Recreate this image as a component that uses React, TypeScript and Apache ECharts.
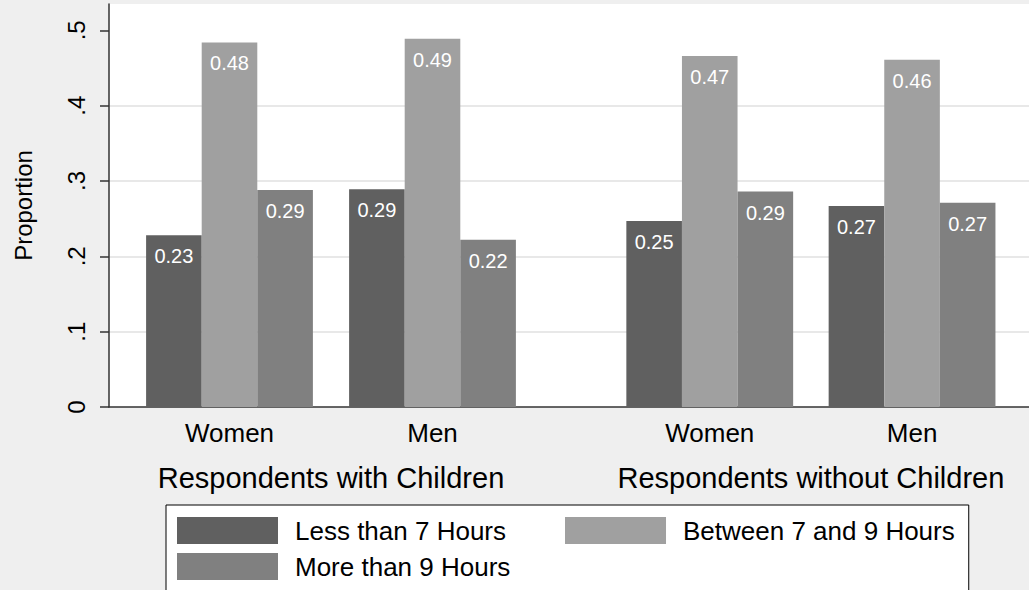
import React, { useEffect, useRef } from "react";
import * as echarts from "echarts";

// ---- data ----
const sexes = ["Women", "Men"];
const groups = ["Respondents with Children", "Respondents without Children"];
const seriesNames = ["Less than 7 Hours", "Between 7 and 9 Hours", "More than 9 Hours"];
// order: [with children: Women, Men], [without children: Women, Men]
const lessThan7 = [0.228, 0.289, 0.247, 0.267];
const between7and9 = [0.484, 0.489, 0.466, 0.461];
const moreThan9 = [0.288, 0.222, 0.286, 0.271];
const yTicks = [0, 0.1, 0.2, 0.3, 0.4, 0.5];
const yMax = 0.535;

const FONT = "'Liberation Sans', Arial, sans-serif";
const colors = ["#606060", "#a0a0a0", "#808080"];

export default function App() {
  const ref = useRef<HTMLDivElement>(null);

  useEffect(() => {
    if (!ref.current) return;
    const chart = echarts.init(ref.current, undefined, { renderer: "svg" });
    const values = [lessThan7, between7and9, moreThan9];

    const series: any[] = [];
    values.forEach((vals, si) => {
      groups.forEach((_g, gi) => {
        series.push({
          type: "bar",
          name: seriesNames[si],
          xAxisIndex: gi + 1,
          yAxisIndex: gi + 1,
          data: vals.slice(gi * 2, gi * 2 + 2),
          barWidth: 55.6,
          barGap: "0%",
          itemStyle: { color: colors[si] },
          label: {
            show: true,
            position: "insideTop",
            distance: 11,
            color: "#fff",
            fontSize: 20,
            fontFamily: FONT,
            formatter: (p: any) => Number(p.value).toFixed(2),
          },
        });
      });
    });

    const groupXAxis = (gi: number) => ({
      gridIndex: gi + 1,
      type: "category",
      data: sexes,
      axisLine: { show: false },
      axisTick: { show: false },
      axisLabel: { fontSize: 26, margin: 13, color: "#000", fontFamily: FONT },
      name: groups[gi],
      nameLocation: "middle",
      nameGap: 56,
      nameTextStyle: { fontSize: 29, color: "#000", fontFamily: FONT },
    });

    const hiddenY = (gi: number) => ({
      gridIndex: gi + 1,
      type: "value",
      min: 0,
      max: yMax,
      show: false,
      splitLine: { show: false },
    });

    const legendBase = {
      left: 166,
      itemWidth: 101,
      itemHeight: 27,
      icon: "rect",
      selectedMode: false,
      textStyle: { fontSize: 26, color: "#000", fontFamily: FONT, padding: [8, 0, 0, 12] },
    };

    chart.setOption({
      animation: false,
      backgroundColor: "#efefef",
      textStyle: { fontFamily: FONT },
      grid: [
        { left: 109, right: 0, top: 4, bottom: 183, show: true, backgroundColor: "#fff", borderWidth: 0 },
        { left: 128, width: 406, top: 4, bottom: 183 },
        { left: 608.6, width: 404.6, top: 4, bottom: 183 },
      ],
      xAxis: [
        {
          gridIndex: 0,
          type: "category",
          data: [""],
          axisLine: { show: true, lineStyle: { color: "#333", width: 1.5 } },
          axisTick: { show: false },
          axisLabel: { show: false },
        },
        groupXAxis(0),
        groupXAxis(1),
      ],
      yAxis: [
        {
          gridIndex: 0,
          type: "value",
          min: 0,
          max: yMax,
          interval: 0.1,
          axisLine: { show: true, lineStyle: { color: "#333", width: 1.5 } },
          axisTick: { show: true, length: 9, lineStyle: { color: "#333", width: 1.5 }, customValues: yTicks },
          splitLine: {
            show: true,
            showMaxLine: false,
            showMinLine: false,
            lineStyle: { color: "#e8e8e8", width: 2 },
          },
          axisLabel: {
            rotate: 90,
            fontSize: 24,
            margin: 21,
            color: "#000",
            fontFamily: FONT,
            customValues: yTicks,
            formatter: (v: number) => {
              const s = v.toFixed(1);
              return s === "0.0" ? "0" : s.replace(/^0/, "");
            },
          },
          name: "Proportion",
          nameLocation: "middle",
          nameRotate: 90,
          nameGap: 74,
          nameTextStyle: { fontSize: 24, color: "#000", fontFamily: FONT },
        },
        hiddenY(0),
        hiddenY(1),
      ],
      legend: [
        {
          ...legendBase,
          top: 505,
          padding: [12, 14, 49, 11],
          itemGap: 59,
          borderColor: "#000",
          borderWidth: 1,
          borderRadius: 0,
          backgroundColor: "#fff",
          data: [seriesNames[0], seriesNames[1]],
        },
        {
          ...legendBase,
          top: 542,
          padding: [11, 10, 10, 11],
          borderWidth: 0,
          backgroundColor: "transparent",
          z: 5,
          data: [seriesNames[2]],
        },
      ],
      series,
    });

    return () => chart.dispose();
  }, []);

  return (
    <div
      ref={ref}
      style={{ position: "fixed", left: 0, top: 0, width: 1029, height: 590 }}
    />
  );
}
